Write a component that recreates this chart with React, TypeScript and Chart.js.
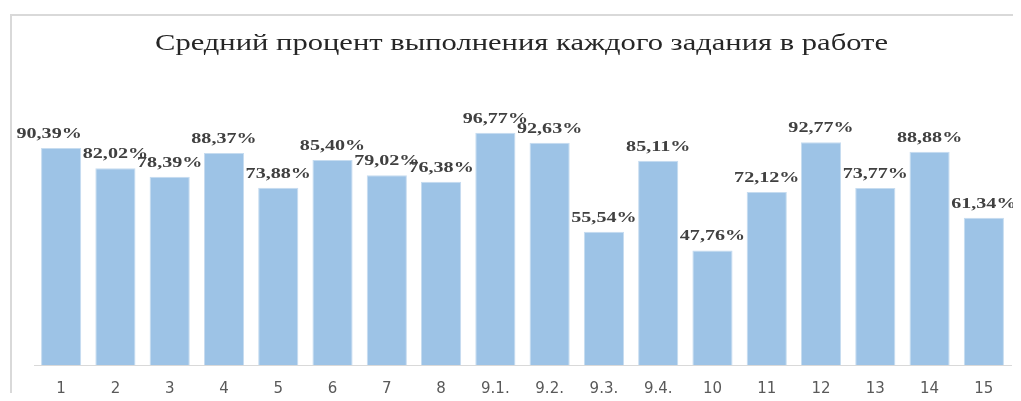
import React, { useEffect, useRef } from "react";
import { Chart, registerables } from "chart.js";

Chart.register(...registerables);

const TITLE = "Средний процент выполнения каждого задания в работе";
const categories = ["1", "2", "3", "4", "5", "6", "7", "8", "9.1.", "9.2.", "9.3.", "9.4.", "10", "11", "12", "13", "14", "15"];
const values = [90.39, 82.02, 78.39, 88.37, 73.88, 85.4, 79.02, 76.38, 96.77, 92.63, 55.54, 85.11, 47.76, 72.12, 92.77, 73.77, 88.88, 61.34];

const fmt = (v: number) => v.toFixed(2).replace(".", ",") + "%";

const overlayPlugin = {
  id: "overlay",
  afterDatasetsDraw(chart: any) {
    const ctx = chart.ctx as CanvasRenderingContext2D;
    // title
    ctx.save();
    ctx.font = "22.5px 'Liberation Serif'";
    ctx.fillStyle = "#262626";
    ctx.textBaseline = "alphabetic";
    ctx.textAlign = "left";
    const w = ctx.measureText(TITLE).width;
    const target = 733;
    const sx = target / w;
    ctx.translate(155, 50);
    ctx.scale(sx, 1);
    ctx.fillText(TITLE, 0, 0);
    ctx.restore();

    // data labels
    const meta = chart.getDatasetMeta(0);
    ctx.save();
    ctx.font = "bold 15px 'Liberation Serif'";
    ctx.fillStyle = "#404040";
    ctx.textAlign = "center";
    ctx.textBaseline = "alphabetic";
    meta.data.forEach((bar: any, i: number) => {
      const txt = fmt(values[i]);
      const dx = i === 0 ? -12 : 0;
      ctx.save();
      ctx.translate(bar.x + dx, bar.y - 10);
      ctx.scale(1.34, 1);
      ctx.fillText(txt, 0, 0);
      ctx.restore();
    });
    ctx.restore();
  },
};

export default function App() {
  const ref = useRef<HTMLCanvasElement>(null);
  useEffect(() => {
    if (!ref.current) return;
    const chart = new Chart(ref.current, {
      type: "bar",
      data: {
        labels: categories,
        datasets: [
          {
            data: values,
            backgroundColor: "#9DC3E6",
            borderColor: "#C6DCF0",
            borderWidth: 1,
            barPercentage: 0.74,
            categoryPercentage: 1,
          },
        ],
      },
      options: {
        responsive: false,
        animation: false,
        layout: { padding: { left: 34, right: 10, top: 77, bottom: 0 } },
        plugins: { legend: { display: false }, title: { display: false }, tooltip: { enabled: false } },
        scales: {
          x: {
            grid: { display: false, drawTicks: false },
            border: { display: true, color: "#D9D9D9", width: 1 },
            ticks: { color: "#595959", font: { family: "'DejaVu Sans'", size: 15 }, padding: 15, maxRotation: 0, autoSkip: false },
          },
          y: { display: false, min: 0, max: 120 },
        },
      },
      plugins: [overlayPlugin],
    });
    return () => chart.destroy();
  }, []);
  return (
    <div style={{ position: "relative", width: 1021, height: 401, margin: -8, overflow: "hidden", background: "#fff" }}>
      <div style={{ position: "absolute", left: 10, top: 14, width: 1100, height: 500, border: "2px solid #D9D9D9" }} />
      <canvas ref={ref} width={1021} height={413} style={{ position: "absolute", left: 0, top: 0 }} />
    </div>
  );
}
